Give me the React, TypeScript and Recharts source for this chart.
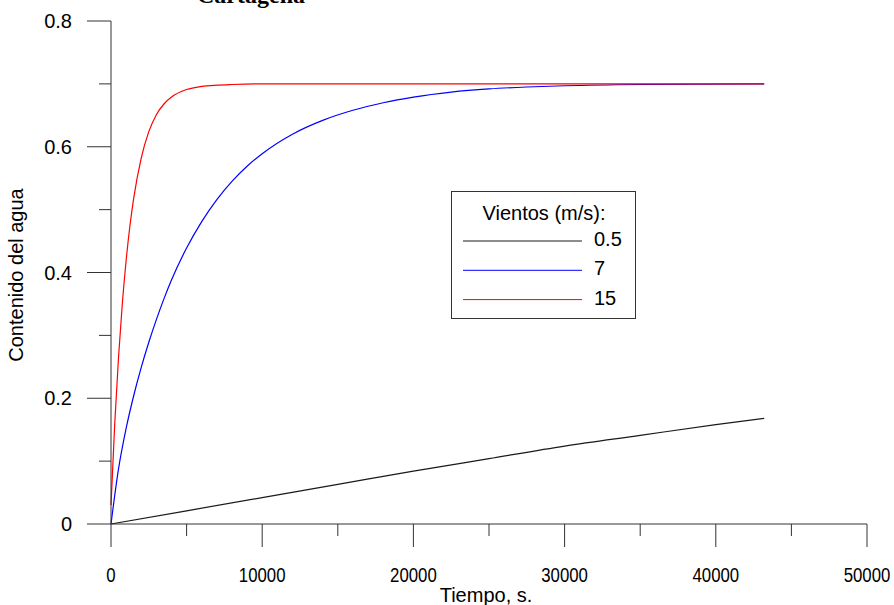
import React from "react";
import { Legend, Line, LineChart, XAxis, YAxis } from "recharts";

// time in seconds, water content
const TIME_05 = [0, 5000, 10000, 15000, 20000, 25000, 30000, 35000, 40000, 43200];
const WATER_05 = [0, 0.021, 0.042, 0.063, 0.084, 0.104, 0.124, 0.141, 0.158, 0.168];

const TIME_7 = [
  0, 500, 1000, 1500, 2000, 2500, 3000, 3500, 4000, 5000, 6000, 7000, 8000, 9000,
  10000, 12000, 14000, 16000, 18000, 20000, 22500, 25000, 27500, 30000, 35000, 43200,
];
const WATER_7 = [
  0, 0.088, 0.152, 0.204, 0.249, 0.289, 0.325, 0.358, 0.388, 0.439, 0.481, 0.516, 0.545,
  0.569, 0.589, 0.62, 0.642, 0.658, 0.67, 0.679, 0.687, 0.692, 0.695, 0.697, 0.699, 0.7,
];

const TIME_15 = [
  0, 250, 500, 750, 1000, 1250, 1500, 2000, 2500, 3000, 3500, 4000, 5000, 6000, 7000,
  8000, 10000, 20000, 30000, 43200,
];
const WATER_15 = [
  0.03, 0.161, 0.266, 0.351, 0.419, 0.474, 0.518, 0.582, 0.624, 0.651, 0.668, 0.679,
  0.691, 0.696, 0.698, 0.699, 0.7, 0.7, 0.7, 0.7,
];

const X_TICKS = [0, 5000, 10000, 15000, 20000, 25000, 30000, 35000, 40000, 45000, 50000];
const Y_TICKS = [0, 0.1, 0.2, 0.3, 0.4, 0.5, 0.6, 0.7, 0.8];

const SERIES = [
  { name: "0.5", color: "#1a1a1a", time: TIME_05, water: WATER_05 },
  { name: "7", color: "#0000ff", time: TIME_7, water: WATER_7 },
  { name: "15", color: "#ff0000", time: TIME_15, water: WATER_15 },
];

const AXIS = "#333";
const SANS = "'Liberation Sans', Arial, sans-serif";

function XTick({ x, y, payload }: any) {
  const major = payload.value % 10000 === 0;
  return (
    <g>
      <line x1={x} y1={y} x2={x} y2={y + (major ? 23 : 12)} stroke={AXIS} />
      {major && (
        <text
          transform={`translate(${x},${y + 58}) scale(0.8,1)`}
          textAnchor="middle"
          fontSize={21}
          fontFamily={SANS}
          fill="#000"
        >
          {payload.value}
        </text>
      )}
    </g>
  );
}

function YTick({ x, y, payload }: any) {
  const major = Math.round(payload.value * 10) % 2 === 0;
  return (
    <g>
      <line x1={x - (major ? 24 : 12)} y1={y} x2={x} y2={y} stroke={AXIS} />
      {major && (
        <text x={x - 39} y={y + 7} textAnchor="end" fontSize={20} fontFamily={SANS} fill="#000">
          {payload.value}
        </text>
      )}
    </g>
  );
}

function LegendBox() {
  return (
    <div
      style={{
        boxSizing: "border-box",
        width: 185,
        height: 128,
        border: "1px solid #333",
        background: "#fff",
      }}
    >
      <svg width={183} height={126} style={{ display: "block" }}>
        <text x={92} y={28} textAnchor="middle" fontSize={20} fontFamily={SANS} fill="#000">
          Vientos (m/s):
        </text>
        {SERIES.map((s, i) => (
          <g key={s.name}>
            <line x1={11} x2={130} y1={49 + i * 29.3} y2={49 + i * 29.3} stroke={s.color} />
            <text x={142} y={54 + i * 29.3} fontSize={20} fontFamily={SANS} fill="#000">
              {s.name}
            </text>
          </g>
        ))}
      </svg>
    </div>
  );
}

export default function App() {
  return (
    <div style={{ position: "relative", width: 894, height: 605, background: "#fff" }}>
      <style>{"body{margin:0}"}</style>
      <LineChart width={894} height={605} margin={{ top: 21, right: 27, bottom: 0, left: 0 }}>
        <XAxis
          type="number"
          dataKey="t"
          domain={[0, 50000]}
          ticks={X_TICKS}
          interval={0}
          height={81}
          tickSize={0}
          tickMargin={0}
          tick={<XTick />}
          axisLine={{ stroke: AXIS }}
          tickLine={false}
        />
        <YAxis
          type="number"
          domain={[0, 0.8]}
          ticks={Y_TICKS}
          interval={0}
          width={111}
          tickSize={0}
          tickMargin={0}
          tick={<YTick />}
          axisLine={{ stroke: AXIS }}
          tickLine={false}
        />
        {SERIES.map((s) => (
          <Line
            key={s.name}
            name={s.name}
            data={s.time.map((t, i) => ({ t, w: s.water[i] }))}
            dataKey="w"
            type="monotone"
            stroke={s.color}
            strokeWidth={1.2}
            dot={false}
            activeDot={false}
            isAnimationActive={false}
          />
        ))}
        <Legend
          layout="vertical"
          align="center"
          verticalAlign="middle"
          width={185}
          height={128}
          wrapperStyle={{ left: 451, top: 191, width: 185, height: 128 }}
          content={<LegendBox />}
        />
      </LineChart>
      <svg
        width={894}
        height={605}
        style={{ position: "absolute", left: 0, top: 0, pointerEvents: "none", overflow: "visible" }}
      >
        <text
          x={251}
          y={3}
          textAnchor="middle"
          fontSize={24}
          fontWeight="bold"
          fontFamily="'Liberation Serif', 'Times New Roman', serif"
          fill="#000"
        >
          Cartagena
        </text>
        <text x={486} y={602} textAnchor="middle" fontSize={20} fontFamily={SANS} fill="#000">
          Tiempo, s.
        </text>
        <text
          transform="translate(23,275) rotate(-90)"
          textAnchor="middle"
          fontSize={20}
          fontFamily={SANS}
          fill="#000"
        >
          Contenido del agua
        </text>
      </svg>
    </div>
  );
}
